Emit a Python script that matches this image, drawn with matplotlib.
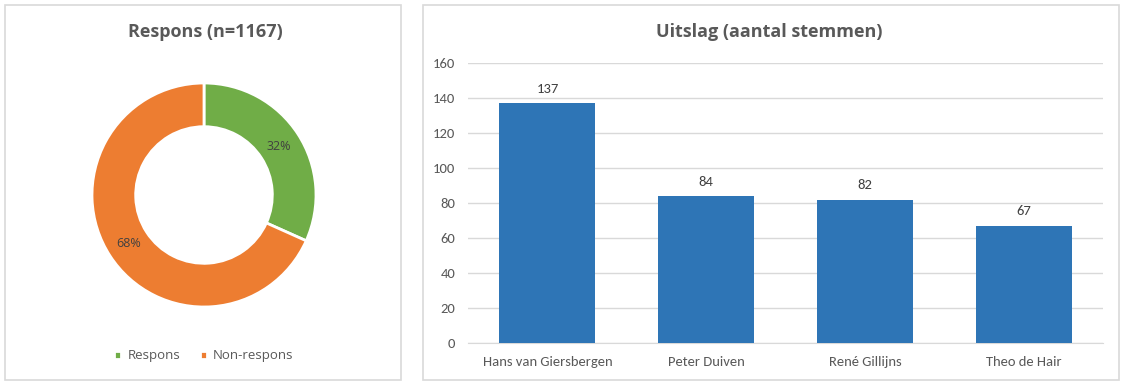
import matplotlib
matplotlib.use("Agg")
import matplotlib.pyplot as plt
from matplotlib.patches import Rectangle

# data
resp_labels = ["Respons", "Non-respons"]
resp_values = [370, 797]
resp_colors = ["#70AD47", "#ED7D31"]

candidates = ["Hans van Giersbergen", "Peter Duiven", "René Gillijns", "Theo de Hair"]
votes = [137, 84, 82, 67]
yticks = [0, 20, 40, 60, 80, 100, 120, 140, 160]

W, H = 1125, 388
gray = "#595959"
narrow = ["Carlito", "Open Sans", "DejaVu Sans"]
wide = ["Open Sans", "DejaVu Sans"]

fig = plt.figure(figsize=(W / 100, H / 100), dpi=100)
fig.patch.set_facecolor("white")

# panel frames
for x0, x1 in [(5, 401), (423, 1119)]:
    fig.add_artist(Rectangle((x0 / W, 1 - 380 / H), (x1 - x0) / W, 375 / H,
                             transform=fig.transFigure, fill=False,
                             edgecolor="#D9D9D9", linewidth=1.2, zorder=0))

# donut
cx, cy, r, half = 204, 195, 112, 120
ax1 = fig.add_axes([(cx - half) / W, (H - cy - half) / H, 2 * half / W, 2 * half / H])
wedges, texts, autotexts = ax1.pie(
    resp_values, colors=resp_colors, startangle=90, counterclock=False,
    autopct=lambda p: f"{p:.0f}%", pctdistance=0.80,
    wedgeprops=dict(width=0.39, edgecolor="white", linewidth=2),
    textprops=dict(color="#404040", fontsize=9, family=wide))
lim = half / r
ax1.set_xlim(-lim, lim)
ax1.set_ylim(-lim, lim)
ax1.set_aspect("equal")
ax1.axis("off")

fig.text(205 / W, 1 - 32 / H, "Respons (n=1167)", ha="center", va="center",
         fontsize=13, fontweight="bold", color=gray, family=wide)
fig.legend(wedges, resp_labels, loc="center", bbox_to_anchor=(cx / W, 1 - 356 / H),
           ncol=2, frameon=False, handlelength=0.5, handleheight=0.5, handletextpad=0.5,
           columnspacing=1.5, prop=dict(family=wide, size=9.5),
           labelcolor=gray)

# bars
ax2 = fig.add_axes([468 / W, (H - 343) / H, (1103 - 468) / W, 280 / H])
x = range(len(candidates))
bars = ax2.bar(x, votes, width=0.605, color="#2E75B6", zorder=3)
ax2.set_ylim(0, 160)
ax2.set_xlim(-0.5, len(candidates) - 0.5)
ax2.set_yticks(yticks)
ax2.set_xticks(list(x))
ax2.set_xticklabels(candidates)
ax2.grid(axis="y", color="#D9D9D9", linewidth=1, zorder=0)
for s in ["top", "right", "left"]:
    ax2.spines[s].set_visible(False)
ax2.spines["bottom"].set_color("#D9D9D9")
ax2.tick_params(length=0, colors=gray, labelsize=10.5)
ax2.tick_params(axis="x", pad=9)
ax2.tick_params(axis="y", pad=9)
for lab in ax2.get_xticklabels() + ax2.get_yticklabels():
    lab.set_family(narrow)
for b, v in zip(bars, votes):
    ax2.annotate(str(v), (b.get_x() + b.get_width() / 2, v), xytext=(0, 6),
                 textcoords="offset points", ha="center", va="bottom",
                 fontsize=10.5, color="#404040", family=narrow)

fig.text(769 / W, 1 - 32 / H, "Uitslag (aantal stemmen)", ha="center", va="center",
         fontsize=13, fontweight="bold", color=gray, family=wide)

fig.savefig("out.png", dpi=100)
